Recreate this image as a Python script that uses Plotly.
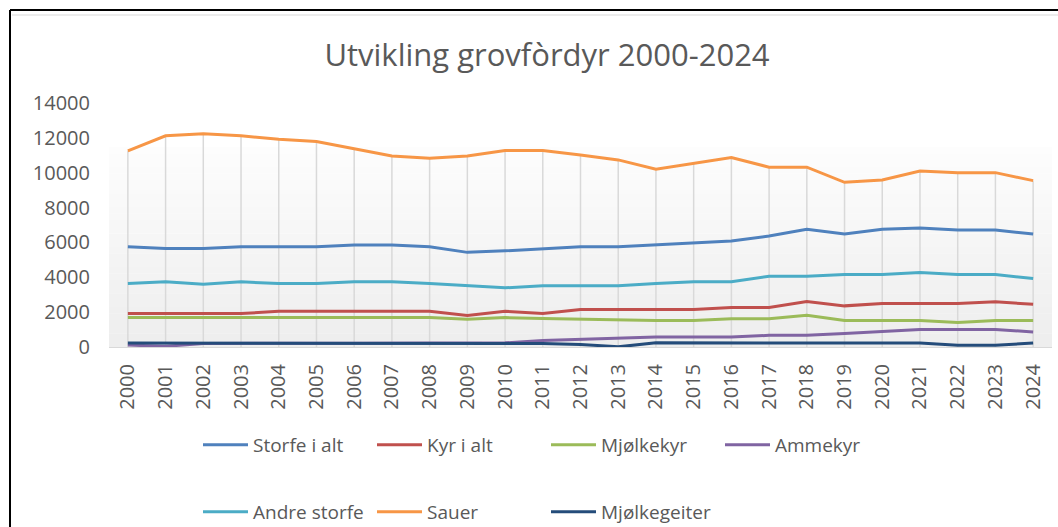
import plotly.graph_objects as go

years = list(range(2000, 2025))

storfe_i_alt = [5750, 5655, 5655, 5750, 5750, 5750, 5850, 5850, 5750, 5430, 5520, 5655,
                5750, 5750, 5850, 5945, 6080, 6365, 6750, 6480, 6750, 6825, 6710, 6710, 6480]
kyr_i_alt = [1920, 1920, 1920, 1920, 2050, 2050, 2050, 2050, 2050, 1805, 2050, 1920,
             2150, 2150, 2150, 2150, 2265, 2265, 2610, 2360, 2495, 2495, 2495, 2590, 2455]
mjolkekyr = [1690, 1690, 1690, 1690, 1690, 1690, 1690, 1690, 1690, 1595, 1690, 1630,
             1595, 1520, 1520, 1520, 1615, 1615, 1825, 1520, 1520, 1520, 1405, 1520, 1520]
ammekyr = [110, 40, 200, 220, 220, 220, 220, 220, 220, 220, 240, 380,
           440, 480, 575, 575, 575, 670, 670, 770, 900, 1000, 1000, 1000, 865]
andre_storfe = [3645, 3740, 3605, 3740, 3645, 3645, 3740, 3740, 3645, 3530, 3395, 3510,
                3510, 3510, 3645, 3740, 3740, 4065, 4065, 4160, 4160, 4275, 4160, 4160, 3930]
sauer = [11250, 12115, 12230, 12115, 11925, 11790, 11370, 10965, 10830, 10965, 11270, 11270,
         11020, 10735, 10200, 10545, 10870, 10315, 10315, 9450, 9585, 10100, 10005, 10005, 9545]
mjolkegeiter = [230, 230, 230, 230, 230, 230, 230, 230, 230, 230, 230, 200,
                150, 10, 240, 230, 230, 230, 230, 230, 230, 230, 100, 100, 230]

ytick_vals = list(range(0, 14001, 2000))

series = [
    ("Storfe i alt", storfe_i_alt, "#4F81BD", "legend"),
    ("Kyr i alt", kyr_i_alt, "#C0504D", "legend"),
    ("Mjølkekyr", mjolkekyr, "#9BBB59", "legend"),
    ("Ammekyr", ammekyr, "#8064A2", "legend"),
    ("Andre storfe", andre_storfe, "#4BACC6", "legend2"),
    ("Sauer", sauer, "#F79646", "legend2"),
    ("Mjølkegeiter", mjolkegeiter, "#244C7A", "legend2"),
]

W, H = 1058, 527
L, R, T, B = 109, 6, 103, 180
FONT = "Open Sans"
GREY = "#595959"


def px_x(px):
    return (px - L) / (W - L - R)


def px_y(py):
    return (H - B - py) / (H - T - B)


fig = go.Figure()

# drop lines from the highest series down to the axis
top = [max(v) for v in zip(*[s[1] for s in series])]
dx, dy = [], []
for yr, v in zip(years, top):
    dx += [yr, yr, None]
    dy += [0, v, None]
fig.add_trace(go.Scatter(x=dx, y=dy, mode="lines", line=dict(color="#d9d9d9", width=1.5),
                         showlegend=False, hoverinfo="skip"))

for name, vals, col, leg in series:
    fig.add_trace(go.Scatter(x=years, y=vals, name=name, mode="lines",
                             line=dict(color=col, width=3), legend=leg))

# plot area gradient
shapes = []
n = 30
for i in range(n):
    f = i / n
    c = int(238 + (254 - 238) * f)
    shapes.append(dict(type="rect", xref="paper", yref="paper", x0=0, x1=1,
                       y0=0.82 * f, y1=0.82 * (i + 1) / n + 0.001, layer="below",
                       line=dict(width=0), fillcolor=f"rgb({c},{c},{c})"))
# sheet border
shapes.append(dict(type="line", xref="paper", yref="paper", x0=px_x(10), x1=px_x(10),
                   y0=px_y(10), y1=px_y(H + 5), line=dict(color="black", width=2)))
shapes.append(dict(type="line", xref="paper", yref="paper", x0=px_x(10), x1=px_x(W + 5),
                   y0=px_y(10), y1=px_y(10), line=dict(color="black", width=2)))
shapes.append(dict(type="line", xref="paper", yref="paper", x0=px_x(12), x1=px_x(W + 5),
                   y0=px_y(15), y1=px_y(15), line=dict(color="#d9d9d9", width=1)))

leg_style = dict(orientation="h", xref="container", yref="container", xanchor="left",
                 yanchor="middle", entrywidth=114, itemwidth=45,
                 font=dict(size=19, color=GREY, family=FONT), bgcolor="rgba(0,0,0,0)")

fig.update_layout(
    width=W, height=H,
    margin=dict(l=L, r=R, t=T, b=B, autoexpand=False),
    paper_bgcolor="white",
    plot_bgcolor="white",
    font=dict(family=FONT, color=GREY),
    title=dict(text="Utvikling grovfòrdyr 2000-2024", x=547 / W, xref="container",
               xanchor="center", y=1 - 55 / H, yref="container", yanchor="middle",
               font=dict(size=31, color=GREY, family=FONT)),
    xaxis=dict(range=[1999.5, 2024.5], tickmode="array", tickvals=years,
               ticktext=[str(y) for y in years], tickangle=-90, showgrid=False,
               zeroline=False, showline=True, linecolor="#d9d9d9", linewidth=1,
               tickfont=dict(size=20, color=GREY), ticklabelstandoff=8, automargin=False),
    yaxis=dict(range=[0, 14000], tickmode="array", tickvals=ytick_vals,
               ticktext=[str(v) for v in ytick_vals], showgrid=False,
               zeroline=False, showline=False, tickfont=dict(size=20, color=GREY),
               ticklabelstandoff=18, automargin=False),
    legend=dict(x=198 / W, y=1 - 445 / H, **leg_style),
    legend2=dict(x=198 / W, y=1 - 512 / H, **leg_style),
    shapes=shapes,
    showlegend=True,
)

fig.write_html("out.html", config={"displayModeBar": False},
               post_script="document.body.style.margin='0';")
